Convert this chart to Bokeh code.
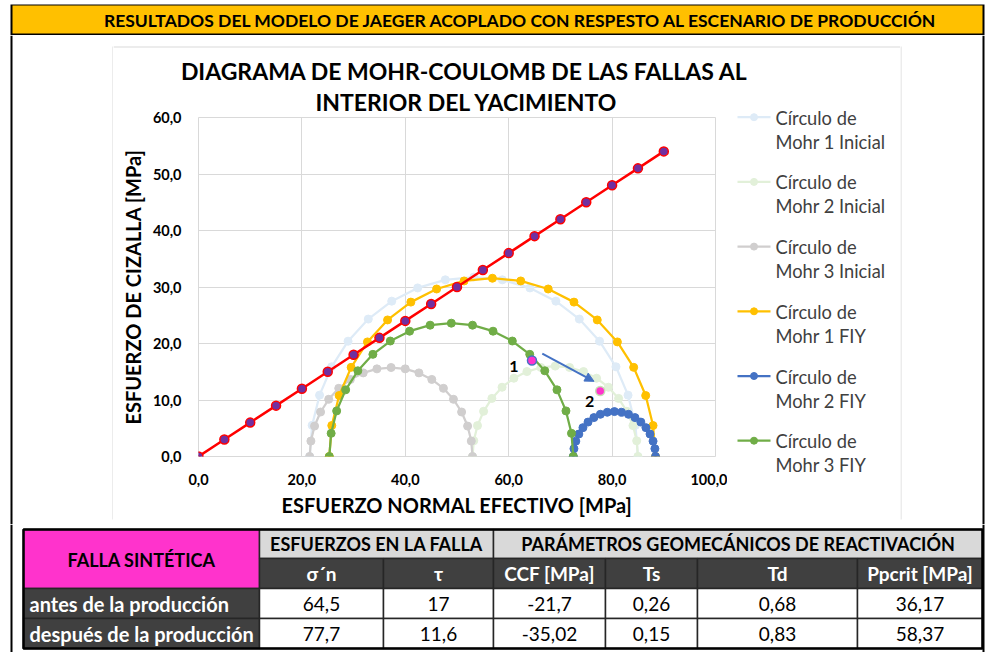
import math
from bokeh.plotting import figure
from bokeh.layouts import row, column
from bokeh.models import Range1d, SingleIntervalTicker, CustomJSTickFormatter, Arrow, NormalHead, Title
from bokeh.core.properties import value
from bokeh.embed import file_html
from bokeh.resources import INLINE

# ---------------- data ----------------
HEADER_TEXT = "RESULTADOS DEL MODELO DE JAEGER ACOPLADO CON RESPESTO AL ESCENARIO DE PRODUCCIÓN"
TITLE_LINES = ["DIAGRAMA DE MOHR-COULOMB DE LAS FALLAS AL", "INTERIOR DEL YACIMIENTO"]
X_LABEL = "ESFUERZO NORMAL EFECTIVO [MPa]"
Y_LABEL = "ESFUERZO DE CIZALLA [MPa]"

# principal effective stresses [sigma1, sigma2, sigma3] (MPa)
SIGMA_INICIAL = [85.0, 53.0, 21.5]
SIGMA_FIY = [88.4, 72.5, 25.3]
# angular positions (2*theta) of the points on each Mohr semicircle
ANGLES_DEG = [0, 10, 20, 30, 40, 50, 60, 70, 80, 90, 100, 110, 120, 130, 140, 150, 160, 170, 180]

LEGEND_LINE1 = "Círculo de"
LEGEND_LINE2 = ["Mohr 1 Inicial", "Mohr 2 Inicial", "Mohr 3 Inicial",
                "Mohr 1 FIY", "Mohr 2 FIY", "Mohr 3 FIY"]

ENVELOPE_SIGMA = [0, 5, 10, 15, 20, 25, 30, 35, 40, 45, 50, 55, 60, 65, 70, 75, 80, 85, 90]
ENVELOPE_TAU = [0, 3, 6, 9, 12, 15, 18, 21, 24, 27, 30, 33, 36, 39, 42, 45, 48, 51, 54]

FAULT_SIGMA = [64.5, 77.7]
FAULT_TAU = [17.0, 11.6]
FAULT_LABELS = ["1", "2"]

X_MAX, Y_MAX = 100, 60
X_TICK_STEP, Y_TICK_STEP = 20, 10

TABLE_TITLE = "FALLA SINTÉTICA"
TABLE_GROUPS = ["ESFUERZOS EN LA FALLA", "PARÁMETROS GEOMECÁNICOS DE REACTIVACIÓN"]
TABLE_COLUMNS = ["σ´n", "τ", "CCF [MPa]", "Ts", "Td", "Ppcrit [MPa]"]
TABLE_ROWS = ["antes de la producción", "después de la producción"]
ROW_ANTES = ["64,5", "17", "-21,7", "0,26", "0,68", "36,17"]
ROW_DESPUES = ["77,7", "11,6", "-35,02", "0,15", "0,83", "58,37"]

# ---------------- style ----------------
FONT = "Lato"
BLACK = "#000000"
GRID = "#D9D9D9"
COLORS = ["#DEEBF7", "#E2F0D9", "#D0CECE", "#FFC000", "#4472C4", "#70AD47"]
ENV_LINE = "#FF0000"
ENV_FILL = "#7030A0"
PINK = "#FF33CC"
DARK = "#404040"
ARROW_BLUE = "#4472C4"


def circle_pairs(s):
    return [(s[2], s[0]), (s[1], s[0]), (s[2], s[1])]


def mohr(lo, hi):
    c = 0.5 * (lo + hi)
    r = 0.5 * (hi - lo)
    xs = [c + r * math.cos(math.radians(a)) for a in ANGLES_DEG]
    ys = [r * math.sin(math.radians(a)) for a in ANGLES_DEG]
    return xs, ys


def no_align(f):
    try:
        f.frame_align = False
    except Exception:
        pass


def deco(w, h):
    f = figure(width=w, height=h, x_range=Range1d(0, w), y_range=Range1d(h, 0),
               toolbar_location=None, output_backend="svg", title=None,
               x_axis_location=None, y_axis_location=None, min_border=0)
    f.outline_line_color = None
    f.background_fill_color = "white"
    f.border_fill_color = "white"
    f.xgrid.visible = False
    f.ygrid.visible = False
    no_align(f)
    return f


def box(f, l, r, t, b, color):
    f.quad(left=[l], right=[r], top=[t], bottom=[b], fill_color=color, line_color=None)


def txt(f, x, y, s, size, bold=True, color=BLACK, align="center"):
    f.text(x=[x], y=[y], text=[s], text_font=value(FONT), text_font_size=f"{size}px",
           text_font_style="bold" if bold else "normal", text_color=color,
           text_align=align, text_baseline="middle")


W = 987

# ---------------- header (y 0..35) ----------------
hdr = deco(W, 35)
box(hdr, 10, 984, 4, 35, BLACK)
box(hdr, 12, 982, 5, 33, "#FFC000")
txt(hdr, 520.5, 19.5, HEADER_TEXT, 17.5)

# ---------------- side strips (y 35..524) ----------------
MID_H = 489
lf = deco(113, MID_H)
box(lf, 10, 12, 0, MID_H, BLACK)
box(lf, 112, 113, 11, 484, GRID)

rf = deco(87, MID_H)
box(rf, 0, 1, 11, 484, GRID)
box(rf, 82, 84, 0, MID_H, BLACK)

# ---------------- chart title line 1 (x 113..900, y 35..84) ----------------
tf = deco(787, 49)
box(tf, 0, 787, 11, 12, GRID)
txt(tf, 351, 35, TITLE_LINES[0], 23)

bf = deco(787, 5)
box(bf, 0, 787, 0, 1, GRID)

# ---------------- chart (x 113..727, y 84..519), frame x 198..715, y 117..457 ----------------
CH_W, CH_H = 614, 435
MB_L, MB_R, MB_T, MB_B = 85, 12, 33, 62
p = figure(width=CH_W, height=CH_H, x_range=Range1d(0, X_MAX), y_range=Range1d(0, Y_MAX),
           toolbar_location=None, output_backend="svg", title=None,
           min_border_left=MB_L, min_border_right=MB_R, min_border_top=MB_T, min_border_bottom=MB_B)
no_align(p)
p.background_fill_color = "white"
p.border_fill_color = "white"
p.outline_line_color = GRID
p.grid.grid_line_color = GRID
p.grid.grid_line_width = 1
p.xaxis.ticker = SingleIntervalTicker(interval=X_TICK_STEP)
p.yaxis.ticker = SingleIntervalTicker(interval=Y_TICK_STEP)
p.xaxis.axis_label = X_LABEL
p.yaxis.axis_label = Y_LABEL
for ax in (p.xaxis[0], p.yaxis[0]):
    ax.formatter = CustomJSTickFormatter(code="return tick.toFixed(1).replace('.', ',');")
    ax.axis_line_color = None
    ax.major_tick_line_color = None
    ax.minor_tick_line_color = None
    ax.major_tick_out = 0
    ax.major_tick_in = 0
    ax.minor_tick_out = 0
    ax.minor_tick_in = 0
    ax.major_label_text_font = FONT
    ax.major_label_text_font_style = "bold"
    ax.major_label_text_font_size = "14.5px"
    ax.major_label_text_color = BLACK
    ax.axis_label_text_font = FONT
    ax.axis_label_text_font_style = "bold"
    ax.axis_label_text_font_size = "20px"
    ax.axis_label_text_color = BLACK
p.xaxis.major_label_standoff = 17
p.xaxis.axis_label_standoff = 5
p.yaxis.major_label_standoff = 17
p.yaxis.axis_label_standoff = 5

# second title line (left edge at page x ~315, i.e. 117 px right of the frame's left edge)
p.add_layout(Title(text=TITLE_LINES[1], align="left", offset=117, standoff=3,
                   text_font=FONT, text_font_style="bold", text_font_size="23px",
                   text_color=BLACK), "above")

for (lo, hi), col in zip(circle_pairs(SIGMA_INICIAL) + circle_pairs(SIGMA_FIY), COLORS):
    xs, ys = mohr(lo, hi)
    p.line(xs, ys, line_color=col, line_width=2.25)
    p.scatter(xs, ys, size=8, fill_color=col, line_color=col)

p.line(ENVELOPE_SIGMA, ENVELOPE_TAU, line_color=ENV_LINE, line_width=2.5)
p.scatter(ENVELOPE_SIGMA, ENVELOPE_TAU, size=9, fill_color=ENV_FILL, line_color=ENV_LINE, line_width=1.5)

p.scatter(FAULT_SIGMA, FAULT_TAU, size=9, fill_color=PINK,
          line_color=[ARROW_BLUE, "#C5E0B4"], line_width=1.5)
p.text(x=FAULT_SIGMA, y=FAULT_TAU, text=FAULT_LABELS, x_offset=[-18, -10.5], y_offset=[6.5, 10.3],
       text_font=value(FONT), text_font_style="bold", text_font_size="16px",
       text_align="center", text_baseline="middle", text_color=BLACK)
p.add_layout(Arrow(end=NormalHead(size=9, fill_color=ARROW_BLUE, line_color=ARROW_BLUE),
                   x_start=FAULT_SIGMA[0] + 2.0, y_start=FAULT_TAU[0] + 1.2,
                   x_end=FAULT_SIGMA[1] - 1.2, y_end=FAULT_TAU[1] + 1.7,
                   line_color=ARROW_BLUE, line_width=2))

# ---------------- legend (x 727..900, y 84..519) ----------------
lg = deco(173, CH_H)
for i, name in enumerate(LEGEND_LINE2):
    y1 = 32.7 + i * 64.7
    lg.line([10, 43], [y1, y1], line_color=COLORS[i], line_width=2.25)
    lg.scatter([26.5], [y1], size=7, fill_color=COLORS[i], line_color=COLORS[i])
    txt(lg, 48, y1 + 0.5, LEGEND_LINE1, 18.3, bold=False, color="#404040", align="left")
    txt(lg, 48, y1 + 24.5, name, 18.3, bold=False, color="#404040", align="left")

# ---------------- table (y 524..652) ----------------
tb = deco(W, 128)
box(tb, 10, 12, 0, 128, BLACK)
box(tb, 982, 984, 0, 128, BLACK)
XE = [23, 259, 383, 493, 605, 697, 857, 982]
YE = [5, 34, 64, 94, 124]
CELL_LINE = "#262626"


def cell(l, r, t, b, fill):
    tb.quad(left=[l], right=[r], top=[t], bottom=[b], fill_color=fill,
            line_color=CELL_LINE, line_width=1.5)


cell(XE[0], XE[1], YE[0], YE[2], PINK)
cell(XE[1], XE[3], YE[0], YE[1], GRID)
cell(XE[3], XE[7], YE[0], YE[1], GRID)
for j in range(6):
    cell(XE[j + 1], XE[j + 2], YE[1], YE[2], DARK)
for k in range(2):
    cell(XE[0], XE[1], YE[2 + k], YE[3 + k], DARK)
    for j in range(6):
        cell(XE[j + 1], XE[j + 2], YE[2 + k], YE[3 + k], "white")
tb.quad(left=[XE[0]], right=[XE[7]], top=[YE[0]], bottom=[YE[4]], fill_color=None,
        line_color=BLACK, line_width=2.5)

HEAD_TS = 18
SUB_TS = 19
ROW_TS = 20
VAL_TS = 19
txt(tb, (XE[0] + XE[1]) / 2, (YE[0] + YE[2]) / 2 + 1, TABLE_TITLE, HEAD_TS)
txt(tb, (XE[1] + XE[3]) / 2, (YE[0] + YE[1]) / 2, TABLE_GROUPS[0], HEAD_TS)
txt(tb, (XE[3] + XE[7]) / 2, (YE[0] + YE[1]) / 2, TABLE_GROUPS[1], HEAD_TS)
for j, c in enumerate(TABLE_COLUMNS):
    txt(tb, (XE[j + 1] + XE[j + 2]) / 2, (YE[1] + YE[2]) / 2, c, SUB_TS, color="white")
for k, (lab, vals) in enumerate(zip(TABLE_ROWS, [ROW_ANTES, ROW_DESPUES])):
    yc = (YE[2 + k] + YE[3 + k]) / 2
    txt(tb, XE[0] + 6, yc, lab, ROW_TS, color="white", align="left")
    for j, v in enumerate(vals):
        txt(tb, (XE[j + 1] + XE[j + 2]) / 2, yc, v, VAL_TS, bold=False)

# ---------------- layout ----------------
middle = row(lf, column(tf, row(p, lg), bf), rf)
page = column(hdr, middle, tb)

open("out.html", "w").write(file_html(page, INLINE))
